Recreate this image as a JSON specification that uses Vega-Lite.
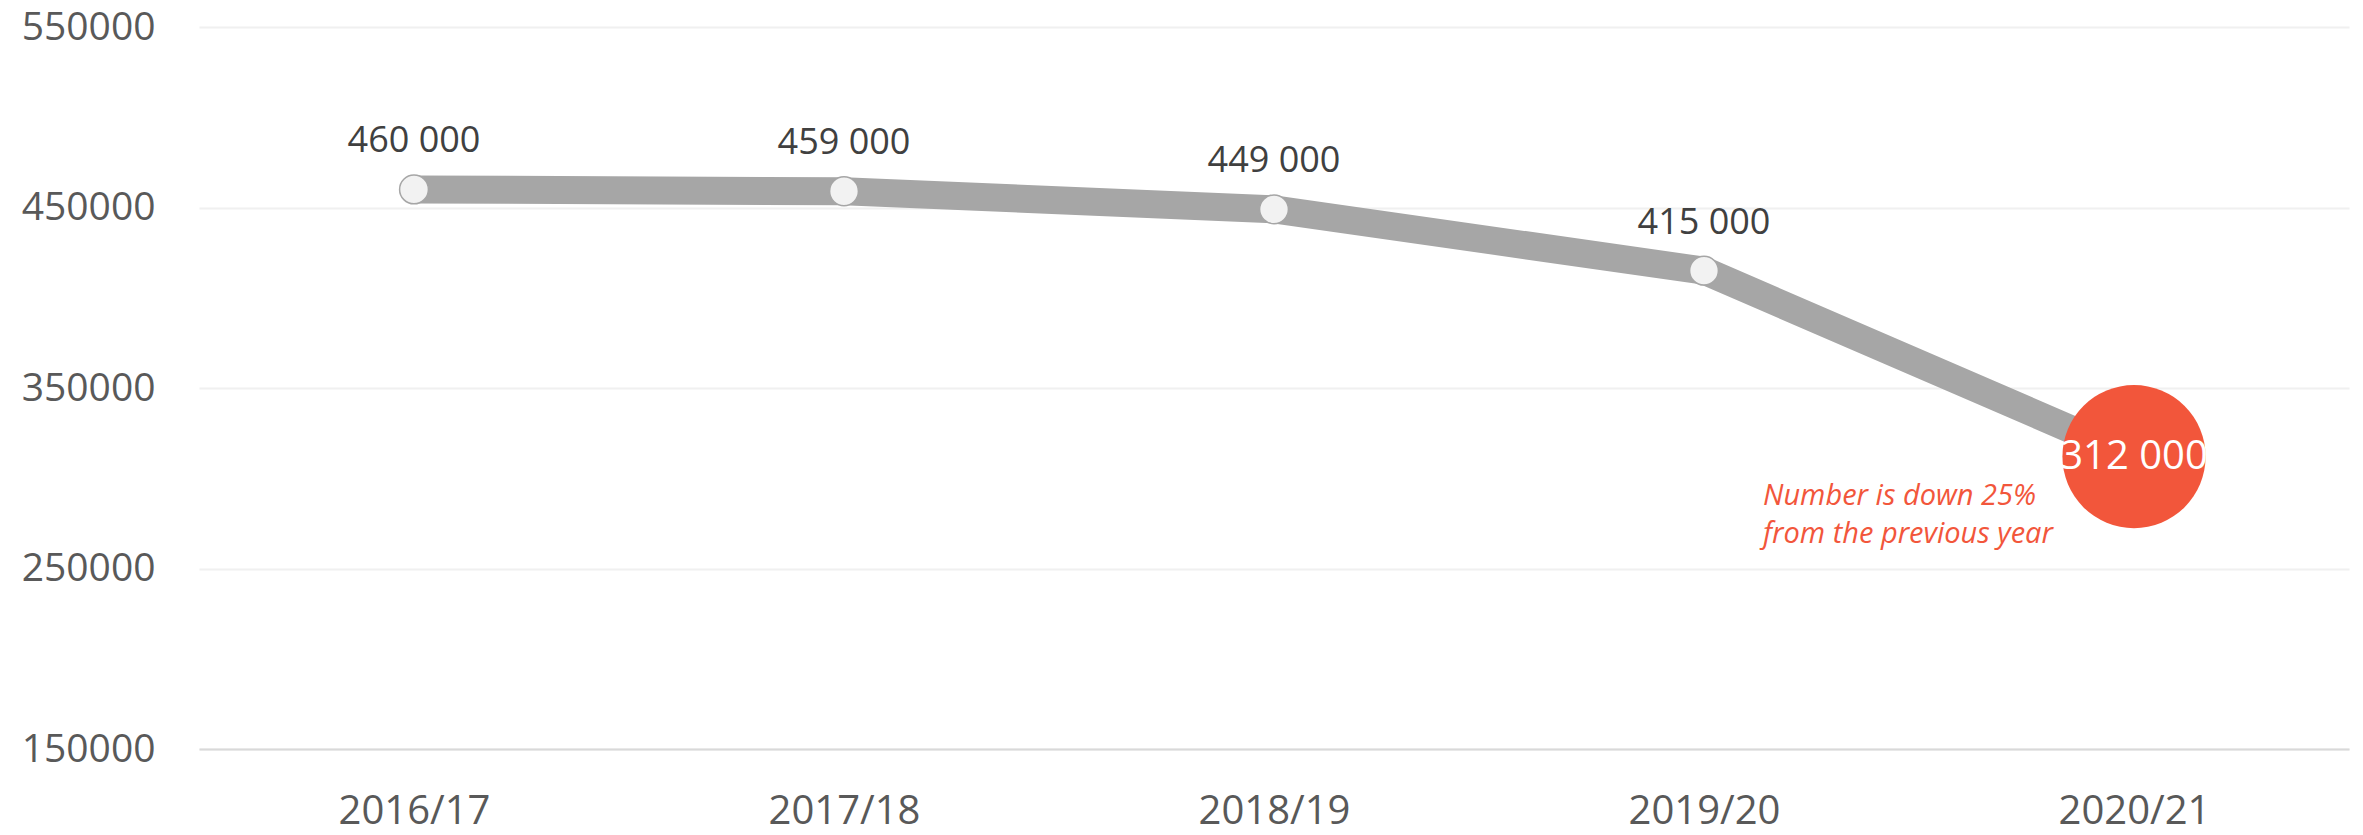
{
  "$schema": "https://vega.github.io/schema/vega-lite/v6.json",
  "width": 2150,
  "height": 722,
  "autosize": "none",
  "padding": {"left": 199, "top": 27, "right": 14, "bottom": 86},
  "background": "white",
  "config": {
    "view": {"stroke": null},
    "font": "Open Sans",
    "axis": {"labelFont": "Open Sans"}
  },
  "data": {
    "values": [
      {"year": "2016/17", "value": 460000, "label": "460 000"},
      {"year": "2017/18", "value": 459000, "label": "459 000"},
      {"year": "2018/19", "value": 449000, "label": "449 000"},
      {"year": "2019/20", "value": 415000, "label": "415 000"},
      {"year": "2020/21", "value": 312000, "label": "312 000"}
    ]
  },
  "encoding": {
    "x": {
      "field": "year", "type": "ordinal", "sort": null,
      "scale": {"type": "point", "padding": 0.5},
      "axis": {
        "title": null, "labelAngle": 0, "ticks": false, "grid": false,
        "domain": true, "domainColor": "#d9d9d9", "domainWidth": 2,
        "labelFontSize": 40, "labelColor": "#595959",
        "labelBaseline": "middle", "labelPadding": 62
      }
    },
    "y": {
      "field": "value", "type": "quantitative",
      "scale": {"domain": [150000, 550000], "nice": false, "zero": false},
      "axis": {
        "title": null, "values": [150000, 250000, 350000, 450000, 550000],
        "format": "d", "ticks": false, "domain": false,
        "grid": true, "gridColor": "#f0f0f0", "gridWidth": 2,
        "labelFontSize": 39, "labelColor": "#595959", "labelPadding": 44
      }
    }
  },
  "layer": [
    {
      "mark": {"type": "line", "color": "#a6a6a6", "strokeWidth": 28, "strokeCap": "butt", "strokeJoin": "round"}
    },
    {
      "transform": [{"filter": "datum.year != '2020/21'"}],
      "mark": {"type": "point", "filled": true, "size": 830, "fill": "#f2f2f2", "stroke": "#a6a6a6", "strokeWidth": 1.5, "opacity": 1}
    },
    {
      "transform": [{"filter": "datum.year != '2020/21'"}],
      "mark": {"type": "text", "fontSize": 36, "color": "#404040", "dy": -48, "baseline": "middle"},
      "encoding": {"text": {"field": "label"}}
    },
    {
      "transform": [{"filter": "datum.year == '2020/21'"}],
      "mark": {"type": "point", "filled": true, "size": 20500, "color": "#f2563b", "opacity": 1, "strokeWidth": 0}
    },
    {
      "transform": [{"filter": "datum.year == '2020/21'"}],
      "mark": {"type": "text", "fontSize": 40, "color": "white", "baseline": "middle"},
      "encoding": {"text": {"field": "label"}}
    },
    {
      "transform": [{"filter": "datum.year == '2020/21'"}],
      "mark": {"type": "text", "fontSize": 29, "fontStyle": "italic", "color": "#f2563b", "align": "left", "baseline": "top", "dx": -371, "dy": 25, "lineHeight": 38,
        "text": ["Number is down 25%", "from the previous year"]}
    }
  ]
}
